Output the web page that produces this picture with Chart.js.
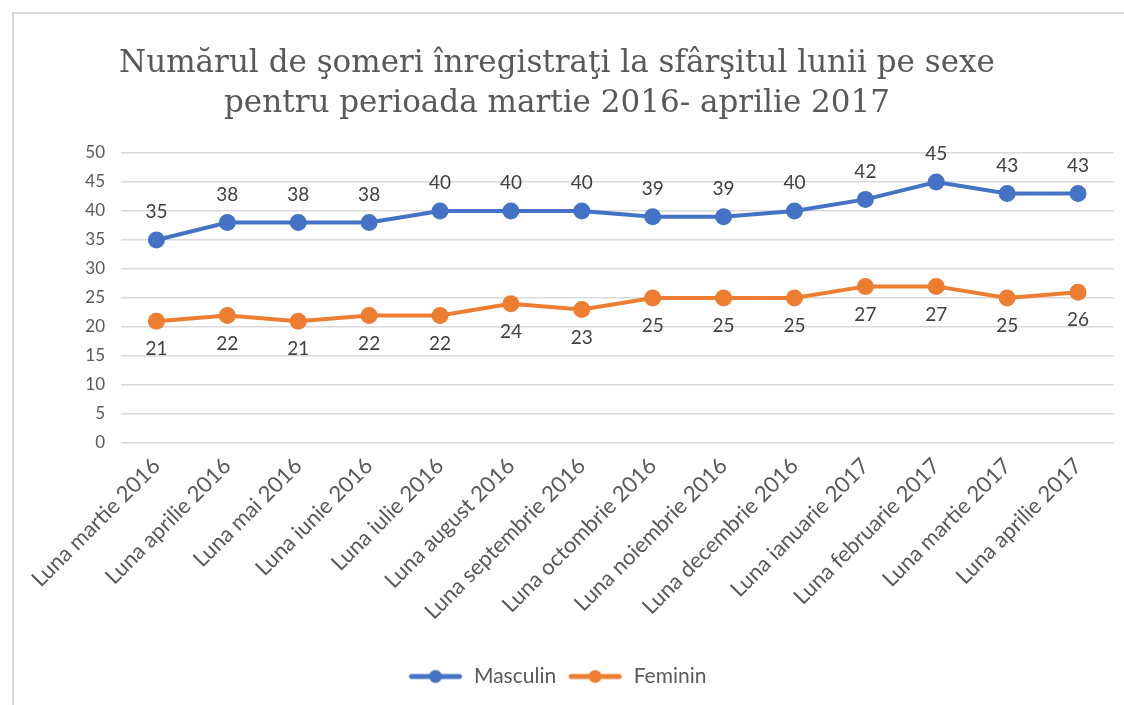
<!DOCTYPE html>
<html>
<head>
<meta charset="utf-8">
<script src="https://cdn.jsdelivr.net/npm/chart.js@4"></script>
<style>
  html, body { margin: 0; padding: 0; background: #fff; }
  #wrap { position: absolute; left: 0; top: 0; width: 1124px; height: 705px; }
  #frame { position: absolute; left: 12px; top: 12px; width: 1130px; height: 720px;
           border: 2px solid #d9d9d9; box-sizing: border-box; }
</style>
</head>
<body>
<div id="frame"></div>
<div id="wrap"><canvas id="myChart" width="1124" height="705"></canvas></div>
<script>
var months = ['Luna martie 2016', 'Luna aprilie 2016', 'Luna mai 2016', 'Luna iunie 2016', 'Luna iulie 2016',
    'Luna august 2016', 'Luna septembrie 2016', 'Luna octombrie 2016', 'Luna noiembrie 2016',
    'Luna decembrie 2016', 'Luna ianuarie 2017', 'Luna februarie 2017', 'Luna martie 2017', 'Luna aprilie 2017'];
var masculin = [35, 38, 38, 38, 40, 40, 40, 39, 39, 40, 42, 45, 43, 43];
var feminin = [21, 22, 21, 22, 22, 24, 23, 25, 25, 25, 27, 27, 25, 26];
var yTicks = [0, 5, 10, 15, 20, 25, 30, 35, 40, 45, 50];

var blue = '#4472C4';
var orange = '#ED7D31';
var labelFont = 'Lato, "Open Sans", sans-serif';

// little line+dot icon for the legend
function legendIcon(color) {
    var c = document.createElement('canvas');
    c.width = 56; c.height = 16;
    var g = c.getContext('2d');
    g.strokeStyle = color; g.lineWidth = 5; g.lineCap = 'round';
    g.beginPath(); g.moveTo(4, 8); g.lineTo(52, 8); g.stroke();
    g.fillStyle = color;
    g.beginPath(); g.arc(28, 8, 6.5, 0, Math.PI * 2); g.fill();
    return c;
}

// value labels: above for the first series, below for the second
var valueLabels = {
    id: 'valueLabels',
    afterDatasetsDraw: function(chart) {
        var ctx = chart.ctx;
        ctx.save();
        ctx.font = '19px ' + labelFont;
        ctx.fillStyle = '#404040';
        ctx.textAlign = 'center';
        ctx.textBaseline = 'middle';
        chart.data.datasets.forEach(function(ds, i) {
            var meta = chart.getDatasetMeta(i);
            meta.data.forEach(function(pt, j) {
                var dy = i === 0 ? -28 : 28;
                ctx.fillText(ds.data[j], pt.x, pt.y + dy);
            });
        });
        ctx.restore();
    }
};

var ctx = document.getElementById('myChart').getContext('2d');
var myChart = new Chart(ctx, {
    type: 'line',
    data: {
        labels: months,
        datasets: [{
            label: 'Masculin',
            data: masculin,
            borderColor: blue,
            backgroundColor: blue,
            borderWidth: 4,
            pointRadius: 6.5,
            pointHoverRadius: 6.5
        }, {
            label: 'Feminin',
            data: feminin,
            borderColor: orange,
            backgroundColor: orange,
            borderWidth: 4,
            pointRadius: 6.5,
            pointHoverRadius: 6.5
        }]
    },
    options: {
        responsive: false,
        animation: false,
        layout: { padding: { top: 44, bottom: 8, left: 0, right: 10 } },
        plugins: {
            title: {
                display: true,
                text: ['Numărul de şomeri înregistraţi la sfârşitul lunii pe sexe',
                       'pentru perioada martie 2016- aprilie 2017'],
                color: '#595959',
                font: { family: '"DejaVu Serif", serif', size: 31, weight: 'normal', lineHeight: 1.29 },
                padding: { top: 0, bottom: 29 }
            },
            legend: {
                position: 'bottom',
                labels: {
                    usePointStyle: true,
                    pointStyleWidth: 56,
                    color: '#595959',
                    font: { family: labelFont, size: 21 },
                    padding: 11,
                    generateLabels: function(chart) {
                        return chart.data.datasets.map(function(ds, i) {
                            return {
                                text: ds.label,
                                pointStyle: legendIcon(ds.borderColor),
                                fillStyle: ds.borderColor,
                                strokeStyle: ds.borderColor,
                                lineWidth: 0,
                                datasetIndex: i,
                                fontColor: '#595959'
                            };
                        });
                    }
                }
            },
            tooltip: { enabled: false }
        },
        scales: {
            x: {
                offset: true,
                grid: { display: false },
                border: { display: false },
                afterFit: function(axis) { axis.height = 212; },
                ticks: {
                    color: '#595959',
                    font: { family: labelFont, size: 22 },
                    maxRotation: 45,
                    minRotation: 45,
                    autoSkip: false,
                    padding: 2
                }
            },
            y: {
                min: 0,
                max: 50,
                afterBuildTicks: function(axis) {
                    axis.ticks = yTicks.map(function(v) { return { value: v }; });
                },
                afterFit: function(axis) { axis.width = 121; },
                grid: { color: '#d9d9d9', lineWidth: 1.5, drawTicks: false },
                border: { display: false },
                ticks: {
                    color: '#595959',
                    font: { family: labelFont, size: 17 },
                    padding: 16
                }
            }
        }
    },
    plugins: [valueLabels]
});
</script>
</body>
</html>
